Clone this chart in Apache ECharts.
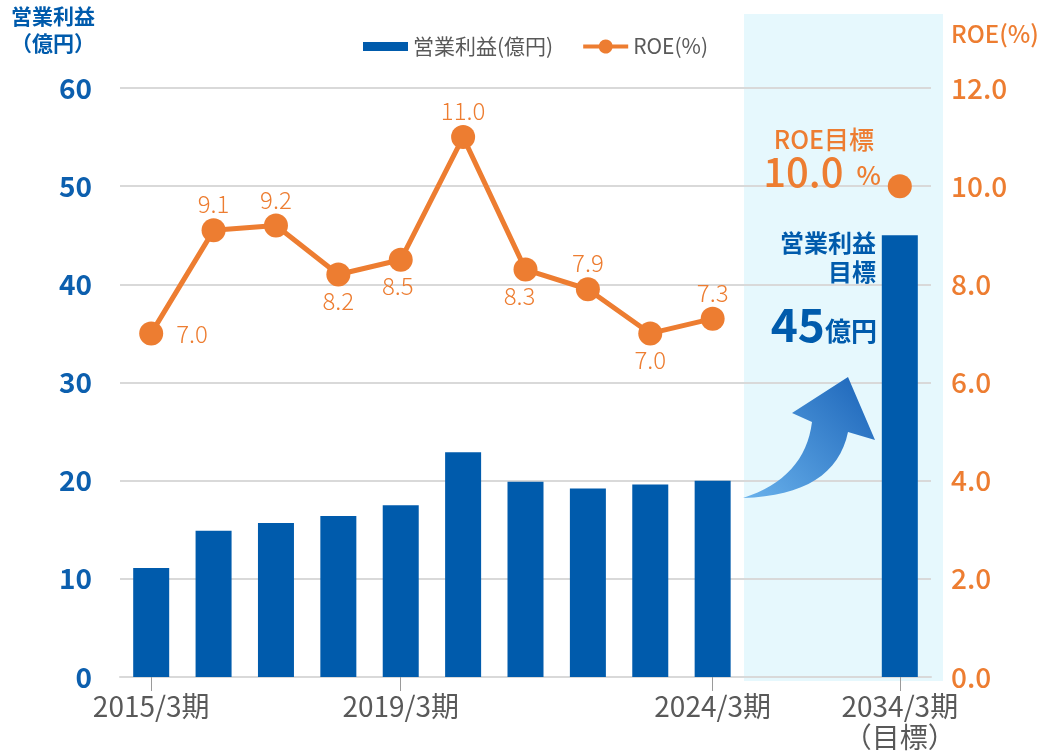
<!DOCTYPE html>
<html style="height: 100%">
<head>
  <meta charset="utf-8">
</head>
<body style="height: 100%; margin: 0; background: #fff">
  <div id="container" style="width: 1043px; height: 752px"></div>
  <script type="text/javascript" src="https://cdn.jsdelivr.net/npm/echarts@6/dist/echarts.min.js"></script>
  <script type="text/javascript">
    // 期（横軸）
    var periods = ['2015/3期', '2016/3期', '2017/3期', '2018/3期', '2019/3期', '2020/3期',
                   '2021/3期', '2022/3期', '2023/3期', '2024/3期', '', '', '2034/3期\n（目標）'];
    var shownPeriods = [0, 4, 9, 12];
    // 営業利益（億円）
    var profit = [11.1, 14.9, 15.7, 16.4, 17.5, 22.9, 19.9, 19.2, 19.6, 20.0, null, null, 45];
    // ROE（%）
    var roe = [7.0, 9.1, 9.2, 8.2, 8.5, 11.0, 8.3, 7.9, 7.0, 7.3, null, null, null];
    var roeTarget = [null, null, null, null, null, null, null, null, null, null, null, null, 10.0];

    var BLUE = '#005bac';
    var ORANGE = '#ed7d31';
    var FONT = '"Noto Sans CJK JP", "Noto Sans", sans-serif';

    // label placement for each ROE point (style only)
    var roeLabelAt = ['right', 'top', 'top', 'bottom', 'bottom', 'top', 'bottom', 'top', 'bottom', 'top'];

    var dom = document.getElementById("container");
    var myChart = echarts.init(dom, null, { renderer: 'canvas' });

    var roeData = roe.map(function (v, i) {
        if (v == null) return '-';
        var pos = roeLabelAt[i];
        return {
            value: v,
            label: {
                position: pos,
                distance: pos === 'right' ? 13 : 2,
                offset: i === 6 ? [-6, 0] : (i === 4 ? [-3, 0] : [0, 0])
            }
        };
    });

    var onlyShown = function (i) { return shownPeriods.indexOf(i) >= 0; };

    // decorative curved arrow outline (quadratic edges sampled into a polygon)
    function quad(p0, c, p1, n) {
        var pts = [];
        for (var k = 0; k <= n; k++) {
            var t = k / n, u = 1 - t;
            pts.push([u * u * p0[0] + 2 * u * t * c[0] + t * t * p1[0],
                      u * u * p0[1] + 2 * u * t * c[1] + t * t * p1[1]]);
        }
        return pts;
    }
    var arrowPts = quad([743, 498], [805, 478], [812, 422], 16)
        .concat([[792, 413], [848, 377], [875, 440]])
        .concat(quad([848, 432], [835, 495], [743, 498], 16));

    var option = {
        textStyle: { fontFamily: FONT },
        animation: false,
        grid: { left: 120, right: 112, top: 88, bottom: 75, outerBoundsMode: 'none' },
        legend: {
            top: 31,
            left: 358,
            itemWidth: 45,
            itemHeight: 14,
            itemGap: 30,
            textStyle: { fontSize: 21, color: '#595959', fontFamily: FONT },
            data: [
                { name: '営業利益(億円)', icon: 'path://M0 0 L45 0 L45 9 L0 9 Z' },
                {
                    name: 'ROE(%)',
                    icon: 'path://M0 5 L15.8 5 A7 7 0 0 1 29.2 5 L45 5 L45 9 L29.2 9 A7 7 0 0 1 15.8 9 L0 9 Z'
                }
            ]
        },
        graphic: [
            {
                type: 'rect',
                z: -10,
                silent: true,
                shape: { x: 744, y: 14, width: 199, height: 667 },
                style: { fill: '#e6f8fd' }
            },
            {
                type: 'polygon',
                z: 1,
                silent: true,
                shape: { points: arrowPts },
                style: {
                    fill: {
                        type: 'linear', x: 0, y: 1, x2: 1, y2: 0,
                        colorStops: [
                            { offset: 0, color: '#6ab2ec' },
                            { offset: 1, color: '#1a63b8' }
                        ]
                    }
                }
            },
            {
                type: 'text',
                z: 5,
                style: {
                    x: 874, y: 139,
                    text: 'ROE目標',
                    align: 'right',
                    verticalAlign: 'middle',
                    fill: ORANGE,
                    font: '500 25px ' + FONT
                }
            },
            {
                type: 'text',
                z: 5,
                style: {
                    x: 881, y: 172,
                    text: '{n|10.0}{u|%}',
                    align: 'right',
                    verticalAlign: 'middle',
                    rich: {
                        n: { fontSize: 40, fontWeight: 500, fill: ORANGE, fontFamily: FONT },
                        u: { fontSize: 26, fontWeight: 500, fill: ORANGE, fontFamily: FONT, padding: [6, 0, 0, 13] }
                    }
                }
            },
            {
                type: 'text',
                z: 5,
                style: {
                    x: 876, y: 257,
                    text: '営業利益\n目標',
                    align: 'right',
                    verticalAlign: 'middle',
                    lineHeight: 29,
                    fill: BLUE,
                    font: 'bold 24px ' + FONT
                }
            },
            {
                type: 'text',
                z: 5,
                style: {
                    x: 877, y: 325,
                    text: '{n|45}{u|億円}',
                    align: 'right',
                    verticalAlign: 'middle',
                    rich: {
                        n: { fontSize: 46, fontWeight: 'bold', fill: BLUE, fontFamily: FONT },
                        u: { fontSize: 26, fontWeight: 'bold', fill: BLUE, fontFamily: FONT, padding: [12, 0, 0, 0] }
                    }
                }
            }
        ],
        xAxis: {
            type: 'category',
            data: periods,
            axisLine: { lineStyle: { color: '#d9d9d9', width: 2 } },
            axisTick: {
                show: true,
                alignWithLabel: true,
                interval: onlyShown,
                length: 14,
                lineStyle: { color: '#9a9a9a' }
            },
            axisLabel: {
                interval: onlyShown,
                color: '#595959',
                fontSize: 28,
                lineHeight: 31,
                margin: 14,
                fontFamily: FONT
            }
        },
        yAxis: [
            {
                type: 'value',
                min: 0, max: 60, interval: 10,
                name: '営業利益\n（億円）',
                nameLocation: 'end',
                nameGap: 31,
                nameTextStyle: {
                    color: BLUE, fontSize: 21, fontWeight: 'bold', align: 'right',
                    lineHeight: 27, padding: [0, 25, 0, 0], fontFamily: FONT
                },
                axisLine: { show: false },
                axisTick: { show: false },
                splitLine: { lineStyle: { color: '#d9d9d9', width: 2 } },
                axisLabel: { color: '#0c5fae', fontSize: 28, fontWeight: 'bold', margin: 28, fontFamily: FONT }
            },
            {
                type: 'value',
                min: 0, max: 12, interval: 2,
                name: 'ROE(%)',
                nameLocation: 'end',
                nameGap: 42,
                nameTextStyle: {
                    color: ORANGE, fontSize: 24, fontWeight: 500, align: 'left',
                    padding: [0, 0, 0, 20], fontFamily: FONT
                },
                axisLine: { show: false },
                axisTick: { show: false },
                splitLine: { show: false },
                axisLabel: {
                    color: ORANGE, fontSize: 28, fontWeight: 500, margin: 20, fontFamily: FONT,
                    formatter: function (v) { return v.toFixed(1); }
                }
            }
        ],
        series: [
            {
                name: '営業利益(億円)',
                type: 'bar',
                data: profit,
                barWidth: 36,
                itemStyle: { color: BLUE },
                z: 2
            },
            {
                name: 'ROE(%)',
                type: 'line',
                yAxisIndex: 1,
                data: roeData,
                symbol: 'circle',
                symbolSize: 24,
                lineStyle: { width: 5, color: ORANGE },
                itemStyle: { color: ORANGE },
                label: {
                    show: true,
                    color: ORANGE,
                    fontSize: 24,
                    fontWeight: 300,
                    fontFamily: FONT,
                    formatter: function (p) { return p.value.toFixed(1); }
                },
                z: 4
            },
            {
                name: 'ROE目標',
                type: 'scatter',
                yAxisIndex: 1,
                data: roeTarget.map(function (v) { return v == null ? '-' : v; }),
                symbol: 'circle',
                symbolSize: 24,
                itemStyle: { color: ORANGE, opacity: 1 },
                z: 4
            }
        ]
    };

    if (option && typeof option === "object") {
        myChart.setOption(option, true);
    }
  </script>
</body>
</html>
